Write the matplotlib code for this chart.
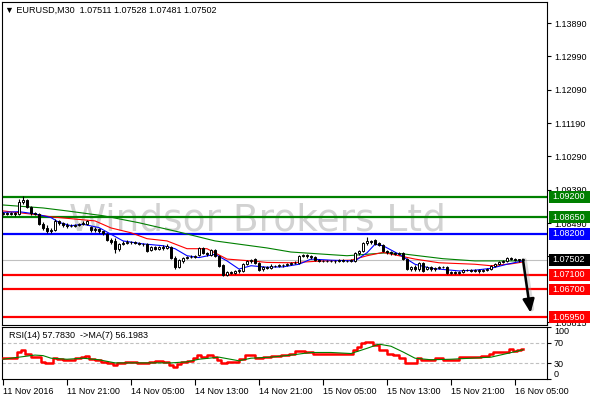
import numpy as np
import matplotlib.pyplot as plt
import matplotlib.transforms as mtransforms
from matplotlib.patches import Rectangle

plt.rcParams['font.family'] = ['Liberation Sans', 'DejaVu Sans']

# EURUSD M30 candles, 11 Nov 13:00 .. 16 Nov 06:00
opens = [1.0874, 1.0877, 1.0874, 1.0877, 1.0874, 1.0907, 1.0912, 1.0893, 1.0877, 1.0874,
         1.0847, 1.0836, 1.0828, 1.0831, 1.0855, 1.0850, 1.0844, 1.0842, 1.0841, 1.0844,
         1.0847, 1.0847, 1.0839, 1.0831, 1.0834, 1.0828, 1.0820, 1.0804, 1.0801, 1.0780,
         1.0793, 1.0796, 1.0798, 1.0799, 1.0796, 1.0793, 1.0792, 1.0777, 1.0785, 1.0780,
         1.0785, 1.0782, 1.0785, 1.0755, 1.0731, 1.0747, 1.0755, 1.0758, 1.0757, 1.0763,
         1.0782, 1.0769, 1.0763, 1.0777, 1.0761, 1.0736, 1.0709, 1.0717, 1.0715, 1.0720,
         1.0720, 1.0739, 1.0747, 1.0752, 1.0742, 1.0725, 1.0731, 1.0728, 1.0734, 1.0733,
         1.0736, 1.0735, 1.0739, 1.0742, 1.0741, 1.0761, 1.0763, 1.0761, 1.0758, 1.0750,
         1.0747, 1.0748, 1.0746, 1.0748, 1.0746, 1.0750, 1.0747, 1.0748, 1.0747, 1.0769,
         1.0774, 1.0796, 1.0801, 1.0804, 1.0796, 1.0790, 1.0774, 1.0771, 1.0769, 1.0766,
         1.0769, 1.0752, 1.0725, 1.0731, 1.0725, 1.0742, 1.0725, 1.0731, 1.0725, 1.0728,
         1.0731, 1.0730, 1.0715, 1.0717, 1.0715, 1.0717, 1.0723, 1.0722, 1.0720, 1.0723,
         1.0720, 1.0723, 1.0725, 1.0734, 1.0739, 1.0744, 1.0747, 1.0755, 1.0752, 1.0750,
         1.07511]
highs = [1.0880, 1.0880, 1.0880, 1.0880, 1.0915, 1.0923, 1.0915, 1.0896, 1.0880, 1.0877,
         1.0852, 1.0844, 1.0836, 1.0861, 1.0858, 1.0852, 1.0850, 1.0847, 1.0847, 1.0850,
         1.0855, 1.0858, 1.0842, 1.0839, 1.0836, 1.0829, 1.0823, 1.0809, 1.0809, 1.0796,
         1.0801, 1.0804, 1.0801, 1.0801, 1.0798, 1.0796, 1.0796, 1.0788, 1.0788, 1.0788,
         1.0790, 1.0793, 1.0788, 1.0761, 1.0752, 1.0758, 1.0761, 1.0763, 1.0763, 1.0785,
         1.0785, 1.0771, 1.0780, 1.0780, 1.0763, 1.0739, 1.0720, 1.0720, 1.0723, 1.0725,
         1.0742, 1.0750, 1.0752, 1.0755, 1.0744, 1.0734, 1.0734, 1.0739, 1.0736, 1.0739,
         1.0739, 1.0742, 1.0744, 1.0747, 1.0763, 1.0766, 1.0766, 1.0763, 1.0761, 1.0752,
         1.0750, 1.0750, 1.0750, 1.0750, 1.0752, 1.0752, 1.0750, 1.0752, 1.0771, 1.0777,
         1.0798, 1.0812, 1.0804, 1.0807, 1.0798, 1.0793, 1.0777, 1.0774, 1.0771, 1.0771,
         1.0771, 1.0755, 1.0734, 1.0736, 1.0744, 1.0744, 1.0734, 1.0734, 1.0731, 1.0734,
         1.0734, 1.0734, 1.0720, 1.0720, 1.0720, 1.0725, 1.0725, 1.0725, 1.0725, 1.0725,
         1.0725, 1.0728, 1.0736, 1.0742, 1.0747, 1.0750, 1.0758, 1.0758, 1.0755, 1.0752,
         1.07528]
lows = [1.0871, 1.0871, 1.0871, 1.0869, 1.0871, 1.0901, 1.0890, 1.0871, 1.0871, 1.0844,
        1.0831, 1.0823, 1.0823, 1.0828, 1.0844, 1.0839, 1.0836, 1.0839, 1.0839, 1.0842,
        1.0844, 1.0844, 1.0825, 1.0825, 1.0823, 1.0817, 1.0801, 1.0793, 1.0769, 1.0774,
        1.0790, 1.0793, 1.0793, 1.0793, 1.0790, 1.0788, 1.0771, 1.0774, 1.0777, 1.0777,
        1.0777, 1.0780, 1.0752, 1.0725, 1.0728, 1.0742, 1.0752, 1.0755, 1.0755, 1.0761,
        1.0766, 1.0761, 1.0761, 1.0758, 1.0731, 1.0707, 1.0707, 1.0712, 1.0712, 1.0715,
        1.0717, 1.0736, 1.0742, 1.0739, 1.0720, 1.0720, 1.0725, 1.0725, 1.0731, 1.0731,
        1.0731, 1.0734, 1.0736, 1.0739, 1.0739, 1.0758, 1.0755, 1.0752, 1.0747, 1.0744,
        1.0744, 1.0744, 1.0744, 1.0742, 1.0744, 1.0744, 1.0744, 1.0744, 1.0744, 1.0763,
        1.0771, 1.0790, 1.0793, 1.0790, 1.0788, 1.0771, 1.0766, 1.0763, 1.0763, 1.0763,
        1.0750, 1.0723, 1.0720, 1.0720, 1.0720, 1.0717, 1.0723, 1.0720, 1.0720, 1.0725,
        1.0728, 1.0712, 1.0712, 1.0712, 1.0712, 1.0715, 1.0720, 1.0717, 1.0717, 1.0715,
        1.0717, 1.0720, 1.0723, 1.0731, 1.0736, 1.0742, 1.0744, 1.0750, 1.0747, 1.0744,
        1.07481]
closes = [1.0877, 1.0874, 1.0877, 1.0874, 1.0907, 1.0912, 1.0893, 1.0877, 1.0874, 1.0847,
          1.0836, 1.0828, 1.0831, 1.0855, 1.0850, 1.0844, 1.0842, 1.0841, 1.0844, 1.0847,
          1.0850, 1.0855, 1.0831, 1.0834, 1.0828, 1.0823, 1.0804, 1.0798, 1.0780, 1.0793,
          1.0796, 1.0798, 1.0799, 1.0796, 1.0793, 1.0792, 1.0774, 1.0785, 1.0780, 1.0785,
          1.0782, 1.0788, 1.0755, 1.0731, 1.0750, 1.0755, 1.0758, 1.0757, 1.0761, 1.0782,
          1.0769, 1.0766, 1.0777, 1.0761, 1.0734, 1.0709, 1.0717, 1.0715, 1.0720, 1.0723,
          1.0739, 1.0747, 1.0750, 1.0742, 1.0723, 1.0731, 1.0728, 1.0734, 1.0733, 1.0736,
          1.0735, 1.0739, 1.0742, 1.0741, 1.0761, 1.0763, 1.0761, 1.0758, 1.0750, 1.0747,
          1.0748, 1.0746, 1.0748, 1.0746, 1.0750, 1.0747, 1.0748, 1.0750, 1.0769, 1.0774,
          1.0796, 1.0801, 1.0798, 1.0793, 1.0790, 1.0774, 1.0771, 1.0769, 1.0766, 1.0769,
          1.0752, 1.0725, 1.0731, 1.0725, 1.0742, 1.0720, 1.0731, 1.0725, 1.0728, 1.0731,
          1.0730, 1.0715, 1.0717, 1.0715, 1.0717, 1.0723, 1.0722, 1.0720, 1.0723, 1.0720,
          1.0723, 1.0725, 1.0734, 1.0739, 1.0744, 1.0747, 1.0755, 1.0752, 1.0750, 1.0751,
          1.07502]

# moving averages (bar index, price)
ma_slow_idx = [0, 10, 16, 25, 34, 44, 53, 66, 72, 86, 96, 100, 110, 118, 130]
ma_slow = [1.0898, 1.0890, 1.0882, 1.0869, 1.0850, 1.0825, 1.0801, 1.0782, 1.0771,
           1.0761, 1.0769, 1.0766, 1.0753, 1.0747, 1.0747]
ma_mid_idx = [0, 9, 12, 23, 27, 32, 36, 41, 46, 51, 56, 62, 66, 72, 80, 87, 91, 95,
              99, 103, 109, 118, 122, 127, 130]
ma_mid = [1.0882, 1.0871, 1.0866, 1.0855, 1.0836, 1.0823, 1.0807, 1.0801, 1.0780, 1.0780,
          1.0752, 1.0747, 1.0743, 1.0742, 1.0747, 1.0749, 1.0761, 1.0770, 1.0761, 1.0752,
          1.0742, 1.0738, 1.0734, 1.0739, 1.0744]
ma_fast_idx = [0, 4, 8, 12, 14, 17, 20, 24, 27, 30, 35, 40, 43, 46, 49, 53, 56, 59, 62,
               66, 70, 74, 77, 82, 88, 91, 93, 95, 99, 103, 107, 114, 118, 122, 126, 130]
ma_fast = [1.0878, 1.0880, 1.0874, 1.0864, 1.0851, 1.0842, 1.0846, 1.0837, 1.0819, 1.0801,
           1.0793, 1.0788, 1.0780, 1.0761, 1.0756, 1.0765, 1.0747, 1.0725, 1.0734, 1.0730,
           1.0731, 1.0738, 1.0752, 1.0749, 1.0747, 1.0769, 1.0792, 1.0788, 1.0765, 1.0738,
           1.0727, 1.0720, 1.0722, 1.0727, 1.0738, 1.0747]

# RSI(14) and its MA(7)
rsi_idx = [0, 3, 4, 5, 6, 8, 9, 10, 11, 12, 13, 14, 16, 17, 19, 20, 21, 22, 24, 25, 27,
           28, 29, 30, 31, 33, 34, 36, 37, 39, 41, 42, 43, 44, 45, 47, 48, 49, 50, 52,
           53, 54, 55, 57, 58, 60, 61, 62, 64, 66, 68, 71, 72, 74, 77, 78, 82, 87, 88,
           89, 90, 91, 92, 93, 95, 97, 98, 100, 101, 103, 104, 105, 107, 109, 111, 113,
           115, 118, 121, 122, 123, 126, 127, 128, 129, 130]
rsi = [40, 40, 52, 56, 49, 43, 42, 33, 30, 30, 40, 38, 37, 37, 40, 43, 44, 38, 37, 33, 30,
       27, 30, 31, 33, 33, 31, 30, 33, 35, 33, 27, 24, 29, 33, 35, 40, 46, 42, 46,
       42, 37, 31, 33, 33, 38, 46, 46, 40, 42, 44, 47, 49, 54, 52, 49, 49, 49, 56,
       62, 69, 72, 72, 65, 56, 48, 46, 40, 31, 31, 40, 37, 37, 40, 37, 37,
       42, 43, 44, 49, 52, 52, 57, 54, 56, 57.783]
rsi_ma_idx = [0, 4, 8, 10, 12, 16, 20, 24, 28, 33, 37, 42, 46, 49, 54, 59, 62, 67, 72,
              77, 82, 87, 91, 94, 97, 100, 103, 107, 112, 117, 122, 126, 130]
rsi_ma = [38, 42, 46, 45, 40, 38, 40, 37, 31, 31, 31, 31, 33, 38, 42, 35, 40, 42, 46,
          51, 51, 49, 59, 67, 63, 52, 40, 37, 38, 40, 42, 49, 56.198]

level_prices = [1.0920, 1.0865, 1.0820, 1.0710, 1.0670, 1.0595]
level_colors = ['#008000', '#008000', '#0000ff', '#ff0000', '#ff0000', '#ff0000']
last_price = 1.07502

price_ticks = [1.1389, 1.1299, 1.1209, 1.1119, 1.1029, 1.0939, 1.0849, 1.0759, 1.05815]
time_idx = [0, 16, 32, 48, 64, 80, 96, 112, 128]
time_labels = ['11 Nov 2016', '11 Nov 21:00', '14 Nov 05:00', '14 Nov 13:00', '14 Nov 21:00',
               '15 Nov 05:00', '15 Nov 13:00', '15 Nov 21:00', '16 Nov 05:00']

W, H = 590, 400
fig = plt.figure(figsize=(W / 100, H / 100), dpi=100)
ax = fig.add_axes([2 / W, 1 - 325 / H, 545 / W, 323 / H])
ax2 = fig.add_axes([2 / W, 1 - 379 / H, 545 / W, 52 / H])

o = np.array(opens); h = np.array(highs); l = np.array(lows); c = np.array(closes)
x = np.arange(len(c))

# watermark
ax.text(0.469, 0.294, 'Windsor Brokers Ltd', transform=ax.transAxes, fontsize=27,
        family='DejaVu Sans', color='#d2d2d2', ha='center', va='baseline', zorder=0)

ax.axhline(last_price, color='#c0c0c0', lw=0.8, zorder=1)
for p, col in zip(level_prices, level_colors):
    ax.axhline(p, color=col, lw=1.6, zorder=2)

ax.plot(ma_slow_idx, ma_slow, color='#008000', lw=0.8, zorder=2.5)
ax.plot(ma_mid_idx, ma_mid, color='#ff0000', lw=0.8, zorder=2.5)
ax.plot(ma_fast_idx, ma_fast, color='#0000ff', lw=0.8, zorder=2.5)

# candles
ax.vlines(x, l, h, color='k', lw=0.8, zorder=3)
up = c >= o
body = np.maximum(np.abs(c - o), 0.00003)
ax.bar(x, body, bottom=np.minimum(o, c), width=0.6,
       color=np.where(up, 'white', 'black'), edgecolor='k', lw=0.7, zorder=4)

# arrow
ax.plot([130.3, 132.1], [1.0748, 1.0618], color='#999999', lw=4, alpha=0.35,
        solid_capstyle='round', zorder=5)
ax.annotate('', xy=(131.9, 1.0607), xytext=(130, 1.0750),
            arrowprops=dict(arrowstyle='-|>,head_width=0.35,head_length=0.8',
                            color='k', lw=1.8, shrinkA=0, shrinkB=0), zorder=6)

ax.set_xlim(-0.25, 136)
ax.set_ylim(1.0574, 1.1446)
ax.set_xticks([])
ax.yaxis.tick_right()
ax.set_yticks(price_ticks)
ax.set_yticklabels(['%.5f' % v for v in price_ticks])
ax.tick_params(axis='y', direction='out', length=3, width=0.8, pad=2, labelsize=6.5)
for s in ax.spines.values():
    s.set_linewidth(0.8)

# right side price boxes
trans = mtransforms.blended_transform_factory(fig.transFigure, ax.transData)
box_h = 0.0032
for p, col in zip(level_prices + [last_price], level_colors + ['black']):
    ax.add_patch(Rectangle((549 / W, p - box_h / 2), 41 / W, box_h, transform=trans,
                           facecolor=col, edgecolor='none', clip_on=False, zorder=10))
    ax.text(552 / W, p, '%.5f' % p, transform=trans, color='white', fontsize=6.5,
            va='center', ha='left', clip_on=False, zorder=11)

fig.text(5 / W, 1 - 10 / H, '\u25bc EURUSD,M30  1.07511 1.07528 1.07481 1.07502',
         fontsize=6.5, va='center', ha='left')

# RSI panel
ax2.axhline(70, color='#c0c0c0', lw=0.8, ls=(0, (3, 2)))
ax2.axhline(30, color='#c0c0c0', lw=0.8, ls=(0, (3, 2)))
ax2.plot(rsi_idx, rsi, color='#ff0000', lw=1.8, drawstyle='steps-mid', zorder=3)
ax2.plot(rsi_ma_idx, rsi_ma, color='#008000', lw=0.8, zorder=4)
ax2.text(7 / 545, 0.84, 'RSI(14) 57.7830  ->MA(7) 56.1983', transform=ax2.transAxes,
         fontsize=6.5, va='center', ha='left')
ax2.set_xlim(-0.25, 136)
ax2.set_ylim(0, 100)
ax2.yaxis.tick_right()
ax2.set_yticks([100, 70, 30, 0])
ax2.set_yticklabels(['100', '70', '30', '0'])
ylabs = ax2.get_yticklabels()
ylabs[0].set_va('top')
ylabs[3].set_va('bottom')
ax2.tick_params(axis='y', direction='out', length=3, width=0.8, pad=2, labelsize=6.5)
ax2.set_xticks(time_idx)
ax2.set_xticklabels(time_labels, ha='left')
ax2.tick_params(axis='x', direction='out', length=4, width=0.8, pad=2, labelsize=6.5)
for s in ax2.spines.values():
    s.set_linewidth(0.8)

fig.savefig('out.png', dpi=100)
